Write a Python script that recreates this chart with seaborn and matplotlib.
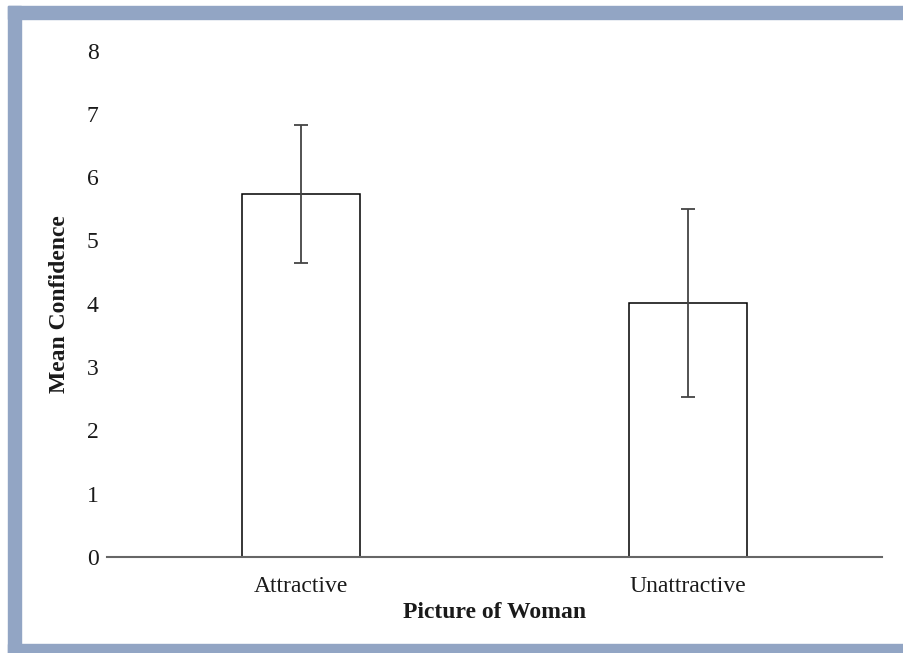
import matplotlib
matplotlib.use("Agg")
import matplotlib.pyplot as plt
from matplotlib.patches import Rectangle
import pandas as pd
import seaborn as sns

# Data
pictures = ["Attractive", "Unattractive"]
mean_confidence = [5.73, 4.01]
error = [1.09, 1.49]

df = pd.DataFrame({"picture": pictures, "confidence": mean_confidence})

sns.set_style("white")
plt.rcParams['font.family'] = ['Liberation Serif', 'DejaVu Serif']

fig = plt.figure(figsize=(9.04, 6.53), dpi=100)
ax = fig.add_axes([107 / 904, 96 / 653, 775 / 904, 506.4 / 653])

sns.barplot(data=df, x="picture", y="confidence", ax=ax, width=0.305,
            color="white", edgecolor="black", linewidth=1.1, errorbar=None)
ax.errorbar(range(len(pictures)), mean_confidence, yerr=error, fmt="none",
            ecolor="#444444", elinewidth=1.3, capsize=5, capthick=1.3)

ax.set_xlim(-0.5, 1.5)
ax.set_ylim(0, 8)
ax.set_yticks(range(0, 9))
ax.tick_params(axis="both", length=0, labelsize=17, colors="#1a1a1a")
ax.tick_params(axis="y", pad=6)
ax.tick_params(axis="x", pad=14)

for side in ["top", "right", "left"]:
    ax.spines[side].set_visible(False)
ax.spines["bottom"].set_color("#666666")
ax.spines["bottom"].set_linewidth(1.5)

ax.set_xlabel("Picture of Woman", fontsize=17, fontweight="bold", color="#1a1a1a", labelpad=3)
ax.set_ylabel("Mean Confidence", fontsize=17, fontweight="bold", color="#1a1a1a", labelpad=12)

# blue-grey frame around the figure
band = "#92A5C4"
W, H = 904, 653
fig.patches.append(Rectangle((8 / W, (H - 19) / H), (W - 8) / W, 13 / H,
                             transform=fig.transFigure, color=band, zorder=0))
fig.patches.append(Rectangle((8 / W, 0), 13 / W, (H - 6) / H,
                             transform=fig.transFigure, color=band, zorder=0))
fig.patches.append(Rectangle((8 / W, 0), (W - 8) / W, 9 / H,
                             transform=fig.transFigure, color=band, zorder=0))

fig.savefig("out.png", dpi=100)
